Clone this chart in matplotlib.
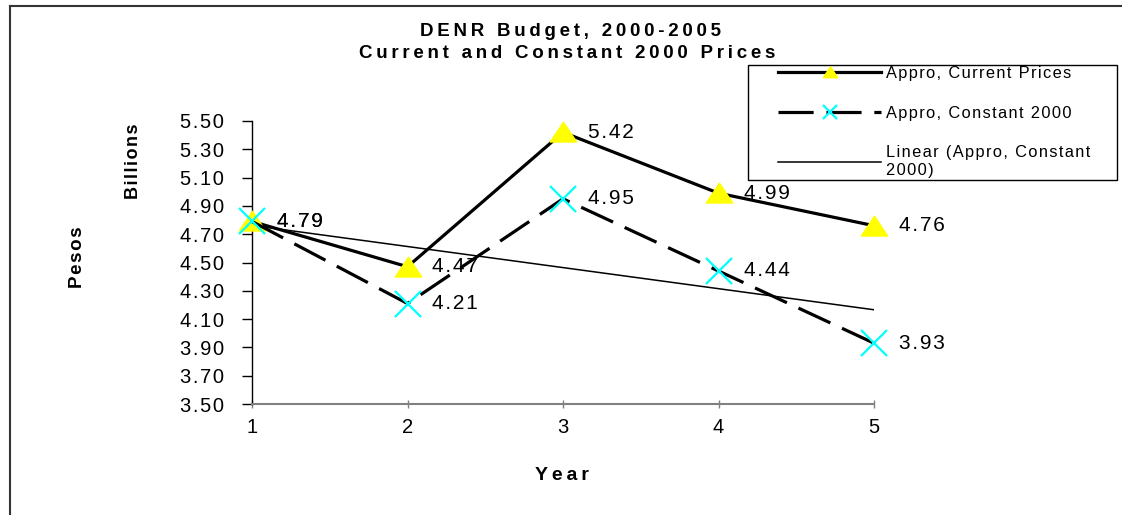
import numpy as np
import matplotlib.pyplot as plt
from matplotlib.lines import Line2D
from matplotlib.patches import Rectangle
from matplotlib.path import Path

plt.rcParams['font.family'] = ['Liberation Sans', 'DejaVu Sans']

years = [1, 2, 3, 4, 5]
current_prices = [4.79, 4.47, 5.42, 4.99, 4.76]
constant_2000 = [4.79, 4.21, 4.95, 4.44, 3.93]
y_ticks = [3.50, 3.70, 3.90, 4.10, 4.30, 4.50, 4.70, 4.90, 5.10, 5.30, 5.50]

THIN = "\u2009"
HAIR = "\u200a"


def spaced(text, sep=THIN):
    # Excel-ish letter spacing
    return sep.join(text)


# flatter triangle than matplotlib's '^'
tri = Path([(-1, -0.72), (1, -0.72), (0, 0.78), (-1, -0.72)],
           [Path.MOVETO, Path.LINETO, Path.LINETO, Path.CLOSEPOLY])

fig = plt.figure(figsize=(11.22, 5.15), dpi=100)
ax = fig.add_axes([252 / 1122, 1 - 404 / 515, (874 - 252) / 1122, (404 - 121) / 515])

# linear trend of the constant-price series
coef = np.polyfit(years, constant_2000, 1)
trend = np.polyval(coef, years)

ax.plot(years, trend, color="black", lw=1.1, zorder=2,
        label=spaced("Linear (Appro, Constant", HAIR) + "\n" + spaced("2000)", HAIR))
ax.plot(years, current_prices, color="black", lw=2.3,
        marker=tri, ms=19, mfc="#ffff00", mec="#ffff00", zorder=3, clip_on=False,
        label=spaced("Appro, Current Prices", HAIR))
ax.plot(years, constant_2000, color="black", lw=2.3, linestyle=(0, (11, 4)),
        marker="x", ms=19, mec="#00ffff", mew=1.6, zorder=4, clip_on=False,
        label=spaced("Appro, Constant 2000", HAIR))

for x, y in zip(years, current_prices):
    ax.annotate(spaced(f"{y:.2f}", HAIR), (x, y), xytext=(18, 0), textcoords="offset points",
                va="center", ha="left", fontsize=15, zorder=5)
for x, y in zip(years, constant_2000):
    ax.annotate(spaced(f"{y:.2f}", HAIR), (x, y), xytext=(18, 0), textcoords="offset points",
                va="center", ha="left", fontsize=15, zorder=5)

ax.set_xlim(1, 5)
ax.set_ylim(3.5, 5.5)
ax.set_xticks(years)
ax.set_xticklabels([str(v) for v in years])
ax.set_yticks(y_ticks)
ax.set_yticklabels([spaced(f"{v:.2f}", HAIR) for v in y_ticks])
ax.tick_params(axis="y", direction="out", length=7, width=1, labelsize=14.5, pad=13)
ax.tick_params(axis="x", direction="inout", length=6, width=1, labelsize=14.5,
               pad=7, color="#808080")
for s in ["top", "right"]:
    ax.spines[s].set_visible(False)
ax.spines["left"].set_linewidth(1)
ax.spines["bottom"].set_color("#808080")
ax.spines["bottom"].set_linewidth(1.5)
ax.patch.set_visible(False)

fig.text(571 / 1122, 1 - 32 / 515, spaced("DENR Budget, 2000-2005", THIN),
         ha="center", va="center", fontsize=13.5, fontweight="bold")
fig.text(567 / 1122, 1 - 53 / 515, spaced("Current and Constant 2000 Prices", THIN),
         ha="center", va="center", fontsize=13.5, fontweight="bold")
fig.text(562 / 1122, 1 - 475 / 515, spaced("Year", THIN), ha="center", va="center",
         fontsize=14, fontweight="bold")
fig.text(134 / 1122, 1 - 161 / 515, spaced("Billions", HAIR), rotation=90, ha="center",
         va="center", fontsize=13, fontweight="bold")
fig.text(78 / 1122, 1 - 257 / 515, spaced("Pesos", HAIR), rotation=90, ha="center",
         va="center", fontsize=13.5, fontweight="bold")

# legend box drawn by hand so it can be as wide as the original
fig.add_artist(Rectangle((748 / 1122, 1 - 180 / 515), (1117 - 748) / 1122, 115 / 515,
                         transform=fig.transFigure, facecolor="white",
                         edgecolor="black", lw=1, zorder=5))
handles, labels = ax.get_legend_handles_labels()
order = [1, 2, 0]
leg = fig.legend([handles[i] for i in order], [labels[i] for i in order],
                 loc="upper left", bbox_to_anchor=(778 / 1122, 1 - 66 / 515),
                 frameon=False, fontsize=11.8, handlelength=6.3, handletextpad=0.3,
                 labelspacing=1.5, borderpad=0, markerscale=0.55, borderaxespad=0)
leg.set_zorder(6)

# outer chart-area border (top and left visible)
fig.add_artist(Line2D([10 / 1122, 1.0], [1 - 6 / 515, 1 - 6 / 515],
                      transform=fig.transFigure, color="#333333", lw=1.5))
fig.add_artist(Line2D([10 / 1122, 10 / 1122], [0, 1 - 6 / 515],
                      transform=fig.transFigure, color="#333333", lw=1.5))

fig.savefig("out.png", dpi=100)
